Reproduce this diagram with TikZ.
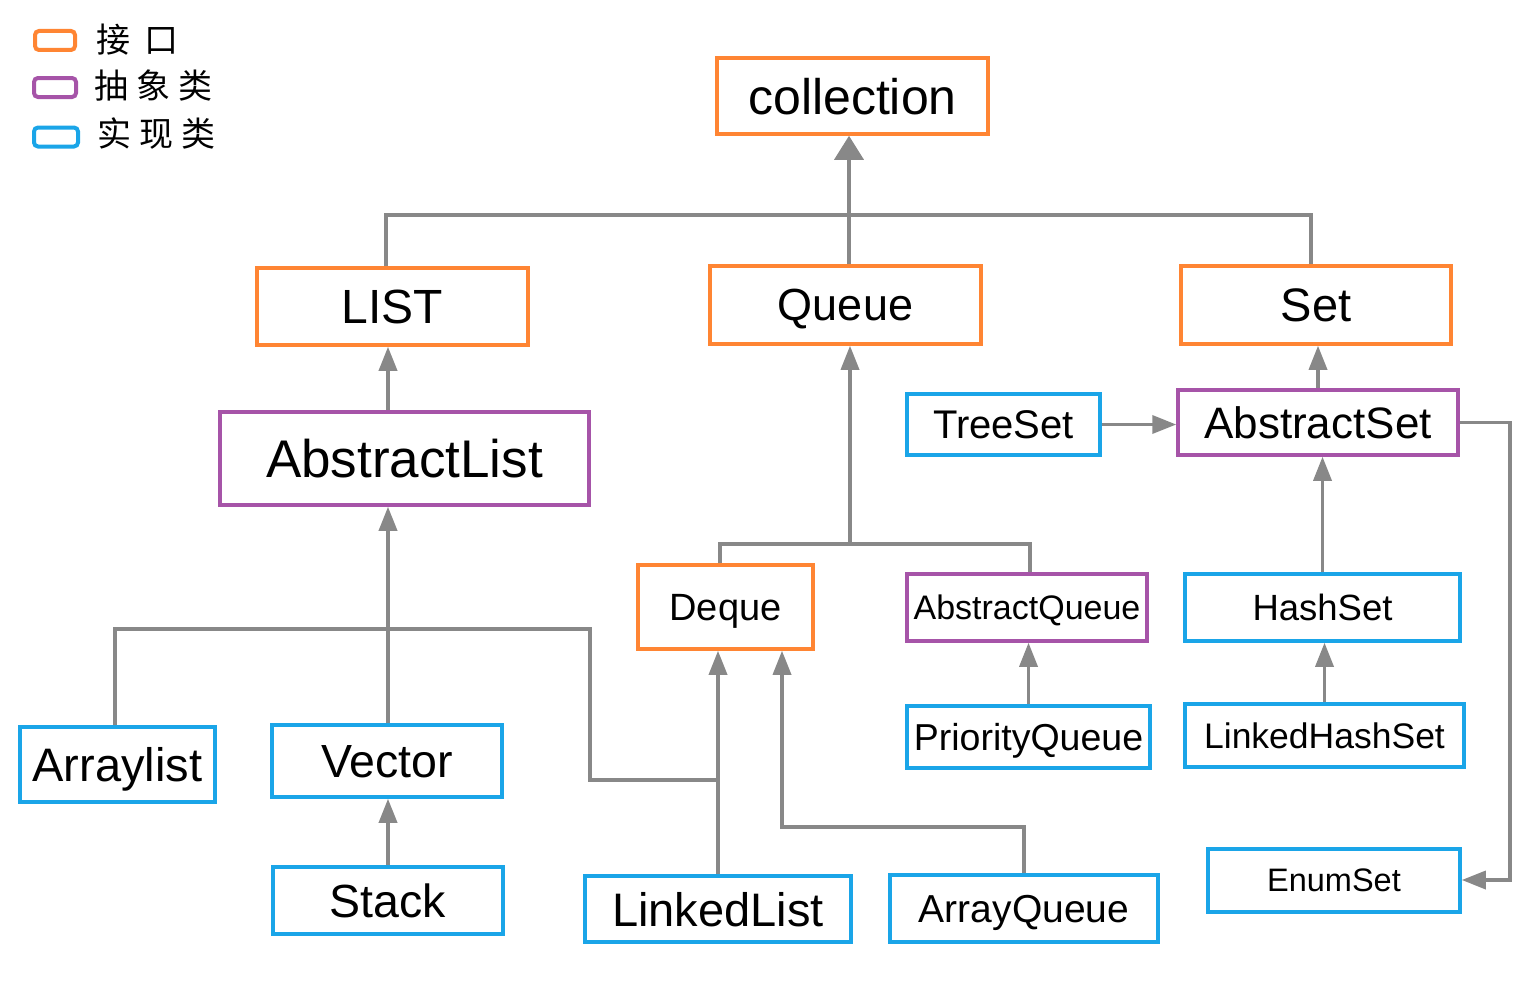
\documentclass[tikz,border=0pt]{standalone}
\usepackage{fontspec}
\setmainfont{Liberation Sans}
\newfontfamily\cjk{Noto Sans CJK SC}
\usetikzlibrary{arrows.meta}
\definecolor{orangeC}{RGB}{255,133,51}
\definecolor{purpleC}{RGB}{166,84,168}
\definecolor{blueC}{RGB}{26,165,232}
\definecolor{grayC}{RGB}{136,136,136}
\newcommand\myfs[1]{\fontsize{#1}{#1}\selectfont}
\tikzset{
  box/.style={draw, line width=3.5pt, fill=white, inner sep=0pt, text=black, text depth=0pt},
  iface/.style={box, draw=orangeC},
  abst/.style={box, draw=purpleC},
  impl/.style={box, draw=blueC},
  legbox/.style={draw, line width=4pt, rounded corners=4pt, inner sep=0pt, minimum width=40pt, minimum height=19pt},
  legtext/.style={anchor=west, inner sep=0pt, font=\cjk\myfs{34}},
  conn/.style={draw=grayC, line width=3.5pt},
  arr/.style={conn, -{Triangle[width=18pt,length=24pt]}},
  bigarr/.style={conn, -{Triangle[width=29pt,length=24pt]}}
}
\begin{document}
\begin{tikzpicture}[x=1pt,y=-1pt]
\useasboundingbox (0,0) rectangle (1538,990);
% legend
\node[legbox, draw=orangeC] (lo) at (55,40.5) {};
\node[legbox, draw=purpleC, minimum width=42pt] (lp) at (55,87.5) {};
\node[legbox, draw=blueC, minimum width=44pt] (lb) at (56,137) {};
\node[legtext] (to) at (96,40) {接\hspace{14pt}口};
\node[legtext] (tp) at (94,86) {抽\hspace{8pt}象\hspace{8pt}类};
\node[legtext] (tb) at (97,134) {实\hspace{8pt}现\hspace{8pt}类};
% nodes
\node[iface, minimum width=271pt, minimum height=76pt, font=\myfs{50}] (collection) at (852.5,96) {collection};
\node[iface, minimum width=271pt, minimum height=77pt, font=\myfs{48}] (LIST) at (392.5,306.5) {LIST};
\node[iface, minimum width=271pt, minimum height=78pt, font=\myfs{45}] (Queue) at (845.5,305) {Queue};
\node[iface, minimum width=270pt, minimum height=78pt, font=\myfs{47}] (Set) at (1316,305) {Set};
\node[abst, minimum width=369pt, minimum height=93pt, font=\myfs{53}] (AbstractList) at (404.5,458.5) {AbstractList};
\node[impl, minimum width=193pt, minimum height=61pt, font=\myfs{40}] (TreeSet) at (1003.5,424.5) {TreeSet};
\node[abst, minimum width=280pt, minimum height=65pt, font=\myfs{44}] (AbstractSet) at (1318,422.5) {AbstractSet};
\node[iface, minimum width=175pt, minimum height=84pt, font=\myfs{38}] (Deque) at (725.5,607) {Deque};
\node[abst, minimum width=240pt, minimum height=67pt, font=\myfs{34}] (AbstractQueue) at (1027,607.5) {AbstractQueue};
\node[impl, minimum width=275pt, minimum height=67pt, font=\myfs{36.5}] (HashSet) at (1322.5,607.5) {HashSet};
\node[impl, minimum width=243pt, minimum height=62pt, font=\myfs{37.5}] (PriorityQueue) at (1028.5,737) {PriorityQueue};
\node[impl, minimum width=279pt, minimum height=63pt, font=\myfs{35.5}] (LinkedHashSet) at (1324.5,735.5) {LinkedHashSet};
\node[impl, minimum width=195pt, minimum height=75pt, font=\myfs{47}] (Arraylist) at (117.5,764.5) {Arraylist};
\node[impl, minimum width=230pt, minimum height=72pt, font=\myfs{46.5}] (Vector) at (387,761) {Vector};
\node[impl, minimum width=230pt, minimum height=67pt, font=\myfs{46.5}] (Stack) at (388,900.5) {Stack};
\node[impl, minimum width=266pt, minimum height=66pt, font=\myfs{47}] (LinkedList) at (718,909) {LinkedList};
\node[impl, minimum width=268pt, minimum height=67pt, font=\myfs{39}] (ArrayQueue) at (1024,908.5) {ArrayQueue};
\node[impl, minimum width=252pt, minimum height=63pt, font=\myfs{32.5}] (EnumSet) at (1334,880.5) {EnumSet};
% junction coordinates
\coordinate (jTop) at (849,215);
\coordinate (jL) at (386,215);
\coordinate (jR) at (1311,215);
\coordinate (cA) at (388,629);
\coordinate (cAL) at (115,629);
\coordinate (cAR) at (590,629);
\coordinate (cLL) at (590,780);
\coordinate (cQ) at (850,544);
\coordinate (cQL) at (720,544);
\coordinate (cQR) at (1030,544);
\coordinate (cAQ) at (782,827);
\coordinate (cE) at (1510,880);
% connectors
\draw[conn] (jL |- LIST.north) -- (jL) -- (jR) -- (jR |- Set.north);
\draw[conn] (jTop |- Queue.north) -- (jTop);
\draw[bigarr] (jTop) -- (jTop |- collection.south);
\draw[arr] (cA |- AbstractList.north) -- (cA |- LIST.south);
\draw[arr] (cA) -- (cA |- AbstractList.south);
\draw[conn] (cAL |- Arraylist.north) -- (cAL) -- (cAR) -- (cLL) -- (cLL -| LinkedList.north);
\draw[conn] (cA |- Vector.north) -- (cA);
\draw[arr] (cA |- Stack.north) -- (cA |- Vector.south);
\draw[arr] (LinkedList.north) -- (LinkedList.north |- Deque.south);
\draw[arr] (ArrayQueue.north) -- (ArrayQueue.north |- cAQ) -- (cAQ) -- (cAQ |- Deque.south);
\draw[arr] (cQ) -- (cQ |- Queue.south);
\draw[conn] (cQL |- Deque.north) -- (cQL) -- (cQR) -- (cQR |- AbstractQueue.north);
\draw[arr] (PriorityQueue.north) -- (PriorityQueue.north |- AbstractQueue.south);
\draw[arr] (TreeSet.east) -- (TreeSet.east -| AbstractSet.west);
\draw[arr] (AbstractSet.north) -- (AbstractSet.north |- Set.south);
\draw[arr] (HashSet.north) -- (HashSet.north |- AbstractSet.south);
\draw[arr] (LinkedHashSet.north) -- (LinkedHashSet.north |- HashSet.south);
\draw[arr] (AbstractSet.east) -- (AbstractSet.east -| cE) -- (cE) -- (cE -| EnumSet.east);
\end{tikzpicture}
\end{document}
